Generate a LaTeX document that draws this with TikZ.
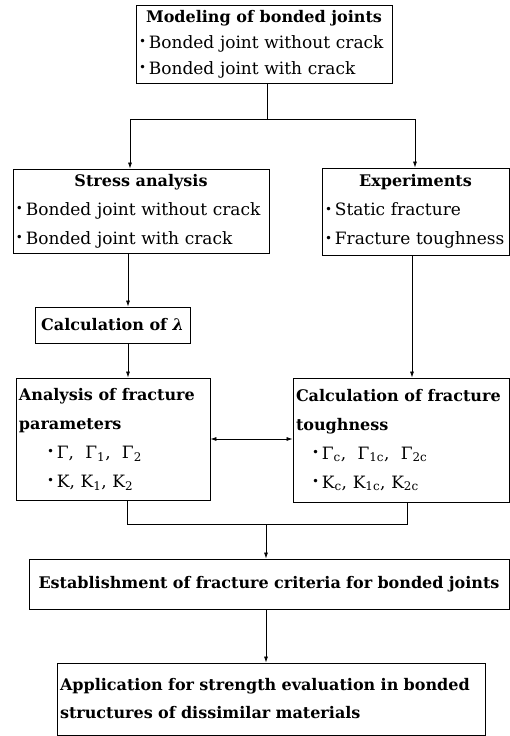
\documentclass[tikz,border=0pt]{standalone}
\usepackage{fontspec}
\setmainfont{DejaVu Serif}
\usetikzlibrary{arrows.meta,calc}
\newcommand\bul{\raisebox{0.3ex}{\scalebox{0.7}{\textbullet}}\,}
\newcommand\hd[1]{\makebox[\linewidth][c]{\fontsize{16}{26}\selectfont\bfseries #1}}

\begin{document}
\begin{tikzpicture}[x=1pt,y=-1pt,
		box/.style={draw, line width=0.9pt, inner xsep=3pt, inner ysep=0pt, align=left, font=\fontsize{17}{26}\selectfont},
		bbox/.style={box, font=\fontsize{16}{28}\selectfont\bfseries},
		arr/.style={-{Latex[length=6pt,width=4pt]}, line width=0.7pt},
		ln/.style={line width=0.7pt}]
		%%%%% START %%%%%
		\useasboundingbox (0,0) rectangle (510,736);
		
		\node[box, text width=250pt, minimum height=78pt] (model) at (264,44) {\hd{Modeling of bonded joints}\\ \bul Bonded joint without crack\\ \bul Bonded joint with crack};
		
		\node[box, text width=250pt, minimum height=84pt, font=\fontsize{17}{29}\selectfont] (stress) at (141,211) {\hd{Stress analysis}\\ \bul Bonded joint without crack\\ \bul Bonded joint with crack};
		\node[box, text width=181pt, minimum height=87pt, font=\fontsize{17}{29}\selectfont] (exper) at (415.5,211.5) {\hd{Experiments}\\ \bul Static fracture\\ \bul Fracture toughness};
		
		\node[bbox, align=center, minimum width=155pt, minimum height=36pt] (lambda) at (112.5,325) {Calculation of {\itshape λ}};
		
		\node[box, text width=188pt, minimum height=122pt, font=\fontsize{17}{29}\selectfont] (anal) at (113,439) {\textbf{\fontsize{16}{29}\selectfont Analysis of fracture}\\ \textbf{\fontsize{16}{29}\selectfont parameters}\\ \hspace*{28pt}\bul Γ,\ \ Γ\textsubscript{1},\ \ Γ\textsubscript{2}\\ \hspace*{28pt}\bul K,\ K\textsubscript{1},\ K\textsubscript{2}};
		\node[box, text width=210pt, minimum height=124pt, font=\fontsize{17}{29}\selectfont] (tough) at (401,440) {\textbf{\fontsize{16}{29}\selectfont Calculation of fracture}\\ \textbf{\fontsize{16}{29}\selectfont toughness}\\ \hspace*{16pt}\bul Γ\textsubscript{c},\ \ Γ\textsubscript{1c},\ \ Γ\textsubscript{2c}\\ \hspace*{16pt}\bul K\textsubscript{c},\ K\textsubscript{1c},\ K\textsubscript{2c}};
		
		\node[bbox, align=center, text width=474pt, minimum height=50pt] (estab) at (269,584) {Establishment of fracture criteria for bonded joints};
		\node[bbox, text width=422pt, minimum height=72pt] (appl) at (271,699) {Application for strength evaluation in bonded\\ structures of dissimilar materials};
		
		% branching
		\coordinate (split) at (267,119);
		\coordinate (tl) at (130,119);
		\coordinate (tr) at (415,119);
		\draw[ln] (split |- model.south) -- (split);
		\draw[ln] (tl) -- (tr);
		\draw[arr] (tl) -- (tl |- stress.north);
		\draw[arr] (tr) -- (tr |- exper.north);
		
		% columns
		\coordinate (colL) at (128,300);
		\coordinate (colR) at (412,300);
		\draw[arr] (colL |- stress.south) -- (colL |- lambda.north);
		\draw[arr] (colL |- lambda.south) -- (colL |- anal.north);
		\draw[arr] (colR |- exper.south) -- (colR |- tough.north);
		\draw[ln, {Latex[length=6pt,width=4pt]}-{Latex[length=6pt,width=4pt]}] (anal.east) -- (anal.east -| tough.west);
		
		% joining
		\coordinate (jl) at (127,524);
		\coordinate (jr) at (407,524);
		\coordinate (jm) at (266,524);
		\draw[ln] (jl |- anal.south) -- (jl) -- (jr) -- (jr |- tough.south);
		\draw[arr] (jm) -- (jm |- estab.north);
		\draw[arr] (jm |- estab.south) -- (jm |- appl.north);
		%%%%% END %%%%%
	\end{tikzpicture}
\end{document}
